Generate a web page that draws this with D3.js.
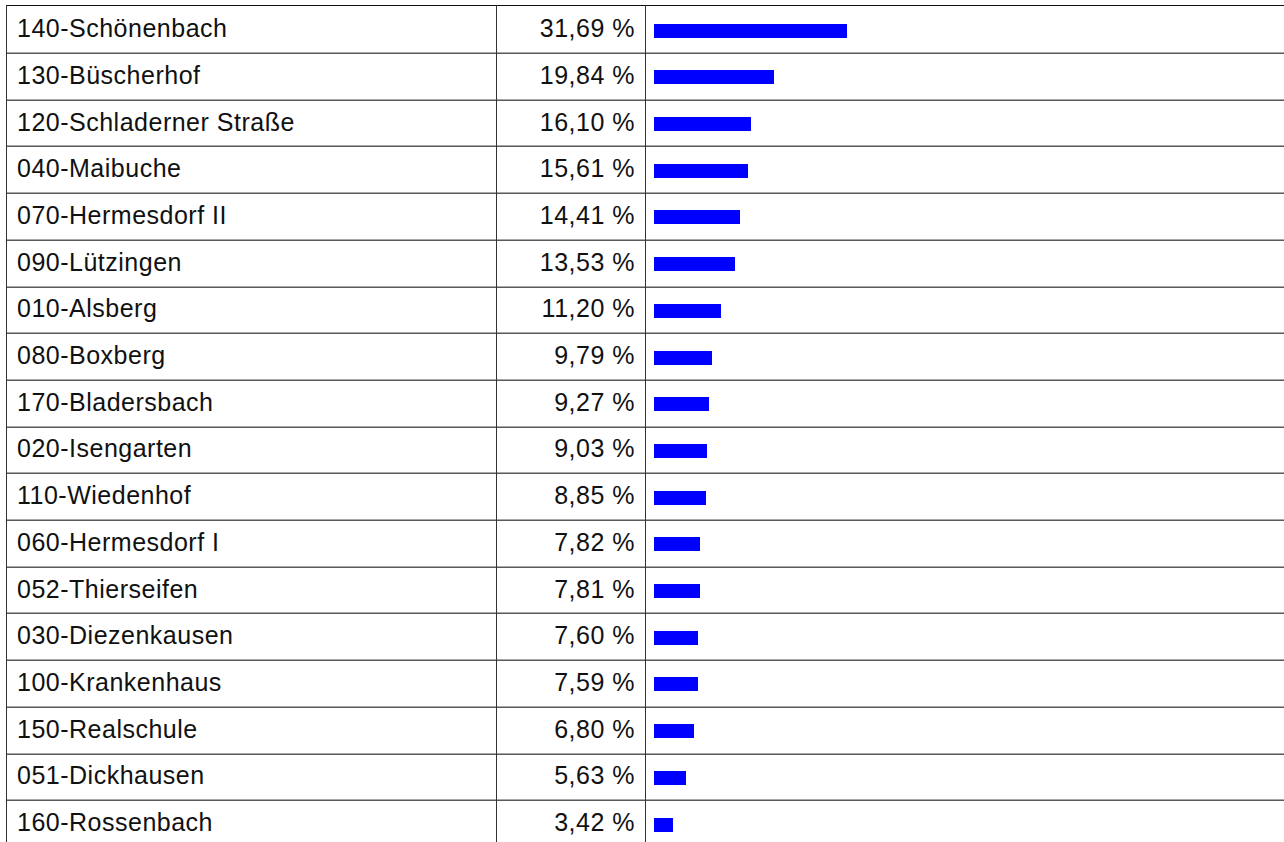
<!DOCTYPE html>
<html>
<head>
<meta charset="utf-8">
<script src="https://cdn.jsdelivr.net/npm/d3@7"></script>
<style>
  html, body { margin: 0; padding: 0; background: #fff; }
  svg { display: block; }
  text { font-family: "Liberation Sans", Arial, Helvetica, sans-serif; fill: #111; }
</style>
</head>
<body>
<svg id="chart" width="1284" height="842"></svg>
<script>
const categories = [
  "140-Schönenbach", "130-Büscherhof", "120-Schladerner Straße", "040-Maibuche",
  "070-Hermesdorf II", "090-Lützingen", "010-Alsberg", "080-Boxberg",
  "170-Bladersbach", "020-Isengarten", "110-Wiedenhof", "060-Hermesdorf I",
  "052-Thierseifen", "030-Diezenkausen", "100-Krankenhaus", "150-Realschule",
  "051-Dickhausen", "160-Rossenbach"
];
const values = [31.69, 19.84, 16.10, 15.61, 14.41, 13.53, 11.20, 9.79, 9.27, 9.03,
  8.85, 7.82, 7.81, 7.60, 7.59, 6.80, 5.63, 3.42];
const valueLabels = values.map(v => v.toFixed(2).replace(".", ",") + " %");

const W = 1284, H = 842;
const svg = d3.select("#chart");

const top0 = 6.3, rowH = 46.7;
const col0 = 6, col1 = 496, col2 = 645;

const y = d3.scaleBand()
  .domain(categories)
  .range([top0, top0 + rowH * categories.length])
  .paddingInner(0).paddingOuter(0);

const barX0 = col2 + 9;
const x = d3.scaleLinear().domain([0, 100]).range([barX0 - 2.35, barX0 + 613.2]);

const g = svg.append("g");

// row separators (two-tone)
categories.slice(1).forEach(c => {
  const yy = Math.round(y(c));
  g.append("rect").attr("x", col0).attr("y", yy - 1).attr("width", W - col0).attr("height", 1)
    .attr("fill", "#a8a8a8").attr("shape-rendering", "crispEdges");
  g.append("rect").attr("x", col0).attr("y", yy).attr("width", W - col0).attr("height", 1)
    .attr("fill", "#5a5a5a").attr("shape-rendering", "crispEdges");
});

// top border
g.append("rect").attr("x", col0).attr("y", Math.round(top0) - 1).attr("width", W - col0).attr("height", 1)
  .attr("fill", "#111").attr("shape-rendering", "crispEdges");

// vertical lines
[col0, col1, col2].forEach(cx => {
  g.append("rect").attr("x", cx - 0.5).attr("y", Math.round(top0) - 1).attr("width", 1).attr("height", H)
    .attr("fill", "#333").attr("shape-rendering", "crispEdges");
});

const rows = g.selectAll("g.row").data(categories).join("g").attr("class", "row");

rows.append("text")
  .attr("x", col0 + 11)
  .attr("y", d => y(d) + y.bandwidth() / 2)
  .attr("dy", "0.3em")
  .attr("font-size", 25)
  .attr("letter-spacing", 0.5)
  .text(d => d);

rows.append("text")
  .attr("x", col2 - 10)
  .attr("y", d => y(d) + y.bandwidth() / 2)
  .attr("dy", "0.3em")
  .attr("text-anchor", "end")
  .attr("font-size", 25)
  .attr("letter-spacing", 0.5)
  .text((d, i) => valueLabels[i]);

rows.append("rect")
  .attr("x", barX0)
  .attr("y", d => Math.round(y(d) + y.bandwidth() / 2 - 6))
  .attr("width", (d, i) => Math.max(0, x(values[i]) - barX0))
  .attr("height", 14)
  .attr("fill", "#0000ff")
  .attr("shape-rendering", "crispEdges");
</script>
</body>
</html>
